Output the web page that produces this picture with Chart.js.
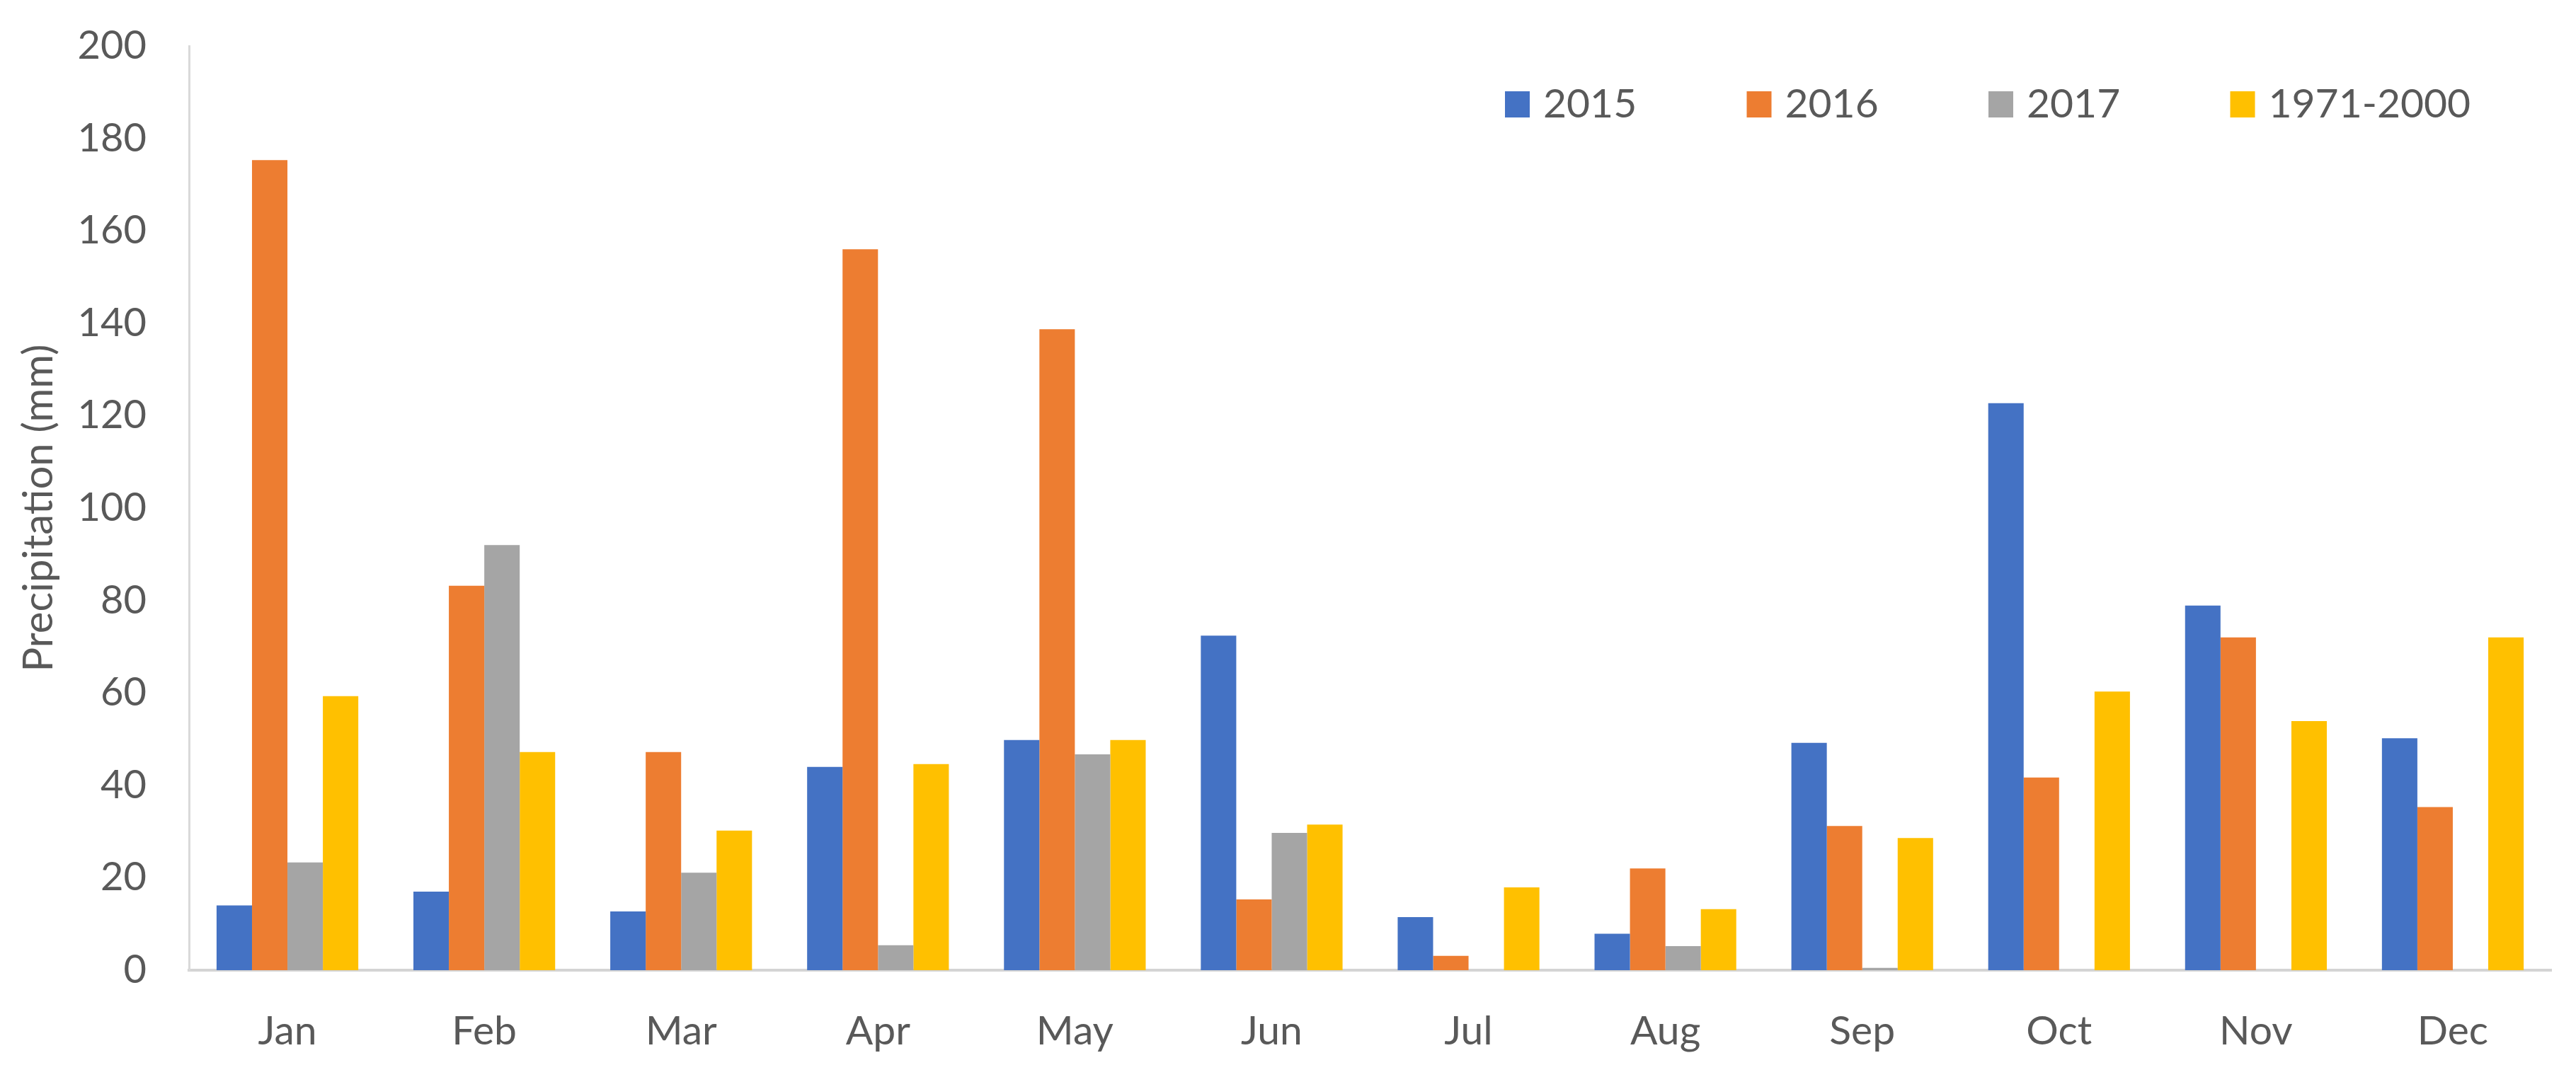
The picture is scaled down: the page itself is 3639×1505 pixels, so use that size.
<!DOCTYPE html>
<html>
<head>
<meta charset="utf-8">
<script src="https://cdn.jsdelivr.net/npm/chart.js@4.4.1/dist/chart.umd.min.js"></script>
<style>
  html, body { margin: 0; padding: 0; background: #ffffff; }
  #wrap { width: 3639px; height: 1505px; }
</style>
</head>
<body>
<div id="wrap"><canvas id="chart" width="3639" height="1505"></canvas></div>
<script>
// monthly precipitation (mm)
const months = ['Jan', 'Feb', 'Mar', 'Apr', 'May', 'Jun', 'Jul', 'Aug', 'Sep', 'Oct', 'Nov', 'Dec'];
const seriesNames = ['2015', '2016', '2017', '1971-2000'];
const p2015 = [14, 17, 12.7, 44, 49.8, 72.4, 11.5, 7.9, 49.2, 122.7, 78.9, 50.2];
const p2016 = [175.3, 83.2, 47.2, 156, 138.7, 15.3, 3.1, 22, 31.2, 41.7, 72, 35.3];
const p2017 = [23.3, 92, 21.1, 5.4, 46.7, 29.7, 0, 5.2, 0.5, 0, 0, 0];
const pNormal = [59.3, 47.2, 30.2, 44.6, 49.8, 31.5, 17.9, 13.2, 28.6, 60.3, 53.9, 72];
const yTicks = [0, 20, 40, 60, 80, 100, 120, 140, 160, 180, 200];

const colors = ['#4472C4', '#ED7D31', '#A5A5A5', '#FFC000'];
const textColor = '#595959';
const fontFamily = 'Lato, "Open Sans", sans-serif';

// legend drawn inside the plot, like the Excel original
const insideLegend = {
  id: 'insideLegend',
  afterDraw(chart) {
    const ctx = chart.ctx;
    const area = chart.chartArea;
    const x0 = area.right - 1478;
    const step = 341.5;
    ctx.save();
    ctx.font = '57px ' + fontFamily;
    ctx.textBaseline = 'alphabetic';
    ctx.textAlign = 'left';
    chart.data.datasets.forEach((ds, i) => {
      const x = x0 + i * step;
      ctx.fillStyle = ds.backgroundColor;
      ctx.fillRect(x, area.top + 64, 35, 37);
      ctx.fillStyle = textColor;
      ctx.fillText(ds.label, x + 54, area.top + 101);
    });
    ctx.restore();
  }
};

const allSeries = [p2015, p2016, p2017, pNormal];

function draw() {
  new Chart(document.getElementById('chart'), {
    type: 'bar',
    data: {
      labels: months,
      datasets: allSeries.map((vals, i) => ({
        label: seriesNames[i],
        data: vals,
        backgroundColor: colors[i],
        borderWidth: 0,
        categoryPercentage: 0.72,
        barPercentage: 1.0
      }))
    },
    options: {
      responsive: false,
      animation: false,
      layout: { padding: { top: 65, right: 35, left: 0, bottom: 0 } },
      plugins: {
        legend: { display: false },
        tooltip: { enabled: false }
      },
      scales: {
        x: {
          grid: { display: false, drawTicks: false },
          border: { display: true, color: '#d4d4d4', width: 4 },
          ticks: { color: textColor, font: { family: fontFamily, size: 57 }, padding: 52, maxRotation: 0 },
          afterFit(scale) {
            scale.height = 134;
            scale.paddingLeft = 0;
            scale.paddingRight = 0;
          }
        },
        y: {
          min: 0,
          max: 200,
          afterBuildTicks(scale) { scale.ticks = yTicks.map(v => ({ value: v })); },
          grid: { display: false, drawTicks: false },
          border: { display: true, color: '#d9d9d9', width: 3 },
          ticks: { color: textColor, font: { family: fontFamily, size: 56 }, padding: 60 },
          title: {
            display: true,
            text: 'Precipitation (mm)',
            color: textColor,
            font: { family: fontFamily, size: 58 },
            padding: { top: 20, bottom: 0 }
          },
          afterFit(scale) {
            scale.width = 267;
            scale.paddingTop = 0;
            scale.paddingBottom = 0;
          }
        }
      }
    },
    plugins: [insideLegend]
  });
}

if (document.fonts && document.fonts.load) {
  document.fonts.load('57px Lato').then(draw, draw);
} else {
  draw();
}
</script>
</body>
</html>
